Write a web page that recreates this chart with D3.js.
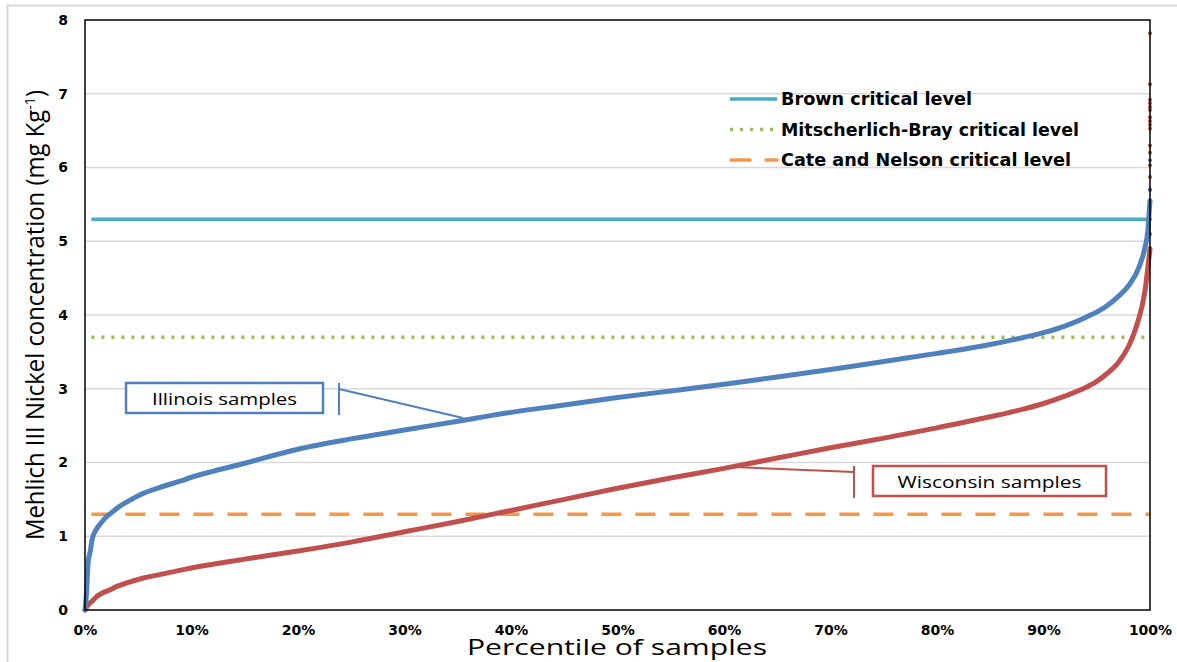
<!DOCTYPE html>
<html>
<head>
<meta charset="utf-8">
<script src="https://cdn.jsdelivr.net/npm/d3@7"></script>
<style>
  body { margin: 0; background: #fff; }
  svg { display: block; }
</style>
</head>
<body>
<svg id="chart" width="1177" height="662"></svg>
<script>
// percentile of samples (%) and Mehlich III Ni (mg/kg)
var illinoisPct = [0, 0.1, 0.2, 0.3, 0.5, 0.66, 0.8, 1, 1.5, 2, 2.5, 3, 4, 5, 7, 9, 10, 12, 15, 17, 20, 25, 30, 35, 40, 45, 50, 55, 60, 65, 70, 75, 80, 85, 87, 90, 92, 94, 96, 97, 98, 99, 99.5, 99.8, 99.9, 100]
var illinoisVal = [0, 0.15, 0.4, 0.65, 0.8, 0.95, 1.02, 1.08, 1.18, 1.26, 1.32, 1.38, 1.47, 1.55, 1.66, 1.75, 1.8, 1.88, 1.99, 2.07, 2.18, 2.32, 2.44, 2.56, 2.68, 2.78, 2.88, 2.97, 3.06, 3.16, 3.26, 3.37, 3.48, 3.6, 3.66, 3.76, 3.85, 3.97, 4.13, 4.25, 4.4, 4.66, 4.9, 5.15, 5.35, 5.55]

var wisconsinPct = [0, 0.2, 0.5, 0.75, 1, 1.5, 2.3, 3, 4, 5.4, 7, 9, 10, 15, 20, 25, 30, 35, 40, 45, 50, 55, 60, 65, 70, 75, 80, 85, 88, 90, 92, 94, 95, 96, 97, 98, 98.5, 99, 99.3, 99.6, 99.8, 100]
var wisconsinVal = [0, 0.05, 0.1, 0.13, 0.17, 0.22, 0.27, 0.32, 0.37, 0.43, 0.48, 0.54, 0.57, 0.69, 0.8, 0.92, 1.06, 1.2, 1.35, 1.5, 1.65, 1.79, 1.92, 2.06, 2.2, 2.33, 2.47, 2.62, 2.72, 2.8, 2.9, 3.02, 3.1, 3.21, 3.35, 3.58, 3.75, 3.98, 4.15, 4.4, 4.65, 4.9]

// the few high samples sitting on the 100% edge
var illinoisTop = [5.7, 6.1]
var wisconsinTop = [5.1, 5.3, 5.55, 5.7, 5.87, 6.03, 6.2, 6.3, 6.53, 6.58, 6.63, 6.68, 6.78, 6.82, 6.87, 6.92, 7.13, 7.82]

var levelNames = ['Brown critical level', 'Mitscherlich-Bray critical level', 'Cate and Nelson critical level']
var levelValues = [5.3, 3.7, 1.3]

var xTicks = [0, 10, 20, 30, 40, 50, 60, 70, 80, 90, 100]
var yTicks = [0, 1, 2, 3, 4, 5, 6, 7, 8]

var blue = '#4f81bd', red = '#c0504d'
var levelStyles = [
  { color: '#4bacc6', dash: null, width: 3.5 },
  { color: '#9bbb59', dash: '3 7', width: 3.5 },
  { color: '#f79646', dash: '20 14', width: 3.5 }
]

var svg = d3.select('#chart')
var plotLeft = 85, plotRight = 1150, plotTop = 20, plotBottom = 610

var x = d3.scaleLinear().domain([0, 100]).range([plotLeft, plotRight])
var y = d3.scaleLinear().domain([0, 8]).range([plotBottom, plotTop])

// outer chart frame
svg.append('rect')
  .attr('x', 7.5).attr('y', 5.5)
  .attr('width', 1300).attr('height', 800)
  .style('fill', 'none').style('stroke', '#d9d9d9').style('stroke-width', 2)

// gridlines
svg.append('g')
  .selectAll('line')
  .data(yTicks.slice(1, -1))
  .join('line')
  .attr('x1', plotLeft).attr('x2', plotRight)
  .attr('y1', d => y(d)).attr('y2', d => y(d))
  .style('stroke', '#d9d9d9').style('stroke-width', 1.5)

// axes (labels only, the frame is drawn below)
var yAxis = svg.append('g')
  .attr('transform', 'translate(' + plotLeft + ',0)')
  .call(d3.axisLeft(y).tickValues(yTicks).tickSize(0).tickPadding(17))
yAxis.select('.domain').remove()
yAxis.selectAll('text')
  .style('font-family', 'DejaVu Sans').style('font-weight', 'bold')
  .style('font-size', '14px').style('fill', '#000')

var xAxis = svg.append('g')
  .attr('transform', 'translate(0,' + plotBottom + ')')
  .call(d3.axisBottom(x).tickValues(xTicks).tickSize(0).tickFormat(d => d + '%'))
xAxis.select('.domain').remove()
xAxis.selectAll('text')
  .attr('y', 25).attr('dy', null)
  .style('font-family', 'DejaVu Sans').style('font-weight', 'bold')
  .style('font-size', '14px').style('fill', '#000')

// critical levels
levelValues.forEach(function (v, i) {
  var s = levelStyles[i]
  svg.append('line')
    .attr('x1', x(0.6)).attr('x2', plotRight)
    .attr('y1', y(v)).attr('y2', y(v))
    .style('stroke', s.color).style('stroke-width', s.width)
    .style('stroke-dasharray', s.dash)
})

// sample curves
var line = d3.line()
  .x(d => x(d[0]))
  .y(d => y(d[1]))
  .curve(d3.curveMonotoneX)

var wisconsin = d3.zip(wisconsinPct, wisconsinVal)
var illinois = d3.zip(illinoisPct, illinoisVal)

svg.append('path').datum(wisconsin).attr('d', line)
  .style('fill', 'none').style('stroke', red).style('stroke-width', 5)
  .style('stroke-linejoin', 'round').style('stroke-linecap', 'round')

svg.append('g').selectAll('circle')
  .data(wisconsinTop)
  .join('circle')
  .attr('cx', x(100)).attr('cy', d => y(d)).attr('r', 2)
  .style('fill', red)

svg.append('path').datum(illinois).attr('d', line)
  .style('fill', 'none').style('stroke', blue).style('stroke-width', 5)
  .style('stroke-linejoin', 'round').style('stroke-linecap', 'round')

svg.append('g').selectAll('circle')
  .data(illinoisTop)
  .join('circle')
  .attr('cx', x(100)).attr('cy', d => y(d)).attr('r', 2)
  .style('fill', blue)

// plot frame
svg.append('rect')
  .attr('x', plotLeft).attr('y', plotTop)
  .attr('width', plotRight - plotLeft).attr('height', plotBottom - plotTop)
  .style('fill', 'none').style('stroke', '#000').style('stroke-width', 1.5)

// legend
var legendWidths = [191, 298, 290]
var legend = svg.append('g')
levelNames.forEach(function (name, i) {
  var s = levelStyles[i]
  var ly = 99 + i * 30.5
  if (i == 2) {
    legend.append('line').attr('x1', 731).attr('x2', 750).attr('y1', ly).attr('y2', ly)
      .style('stroke', s.color).style('stroke-width', s.width).style('stroke-linecap', 'round')
    legend.append('line').attr('x1', 766).attr('x2', 777).attr('y1', ly).attr('y2', ly)
      .style('stroke', s.color).style('stroke-width', s.width).style('stroke-linecap', 'round')
  } else {
    legend.append('line').attr('x1', 730).attr('x2', 777).attr('y1', ly).attr('y2', ly)
      .style('stroke', s.color).style('stroke-width', s.width)
      .style('stroke-dasharray', s.dash)
  }
  legend.append('text')
    .attr('x', 781).attr('y', ly + 6)
    .attr('textLength', legendWidths[i]).attr('lengthAdjust', 'spacingAndGlyphs')
    .style('font-family', 'DejaVu Sans').style('font-weight', 'bold')
    .style('font-size', '17px').style('fill', '#000')
    .text(name)
})

// callouts
function callout (box, bar, tip, label, textWidth, color) {
  var g = svg.append('g')
  g.append('line')
    .attr('x1', bar[0]).attr('y1', bar[1] + 6)
    .attr('x2', tip[0]).attr('y2', tip[1])
    .style('stroke', color).style('stroke-width', 2)
  g.append('line')
    .attr('x1', bar[0]).attr('x2', bar[0])
    .attr('y1', bar[1]).attr('y2', bar[1] + 32)
    .style('stroke', color).style('stroke-width', 2)
  g.append('rect')
    .attr('x', box[0]).attr('y', box[1])
    .attr('width', box[2]).attr('height', box[3])
    .style('fill', '#fff').style('stroke', color).style('stroke-width', 2.5)
  g.append('text')
    .attr('x', box[0] + box[2] / 2).attr('y', box[1] + 21.5)
    .attr('text-anchor', 'middle')
    .attr('textLength', textWidth).attr('lengthAdjust', 'spacingAndGlyphs')
    .style('font-family', 'Open Sans').style('font-size', '17px').style('fill', '#000')
    .text(label)
}
callout([126, 383, 197, 30], [339, 383], [463, 418], 'Illinois samples', 145, blue)
callout([873, 466, 233, 30], [854, 466], [735, 467], 'Wisconsin samples', 184, red)

// axis titles
svg.append('text')
  .attr('x', 617).attr('y', 655)
  .attr('text-anchor', 'middle')
  .attr('textLength', 300).attr('lengthAdjust', 'spacingAndGlyphs')
  .style('font-family', 'Open Sans').style('font-size', '22px').style('fill', '#000')
  .text('Percentile of samples')

var yTitle = svg.append('text')
  .attr('transform', 'translate(44,315) rotate(-90)')
  .attr('text-anchor', 'middle')
  .attr('textLength', 450).attr('lengthAdjust', 'spacingAndGlyphs')
  .style('font-family', 'Open Sans').style('font-size', '25px').style('fill', '#000')
yTitle.append('tspan').text('Mehlich III Nickel concentration (mg Kg')
yTitle.append('tspan').attr('dy', -9).style('font-size', '15px').text('-1')
yTitle.append('tspan').attr('dy', 9).text(')')
</script>
</body>
</html>
